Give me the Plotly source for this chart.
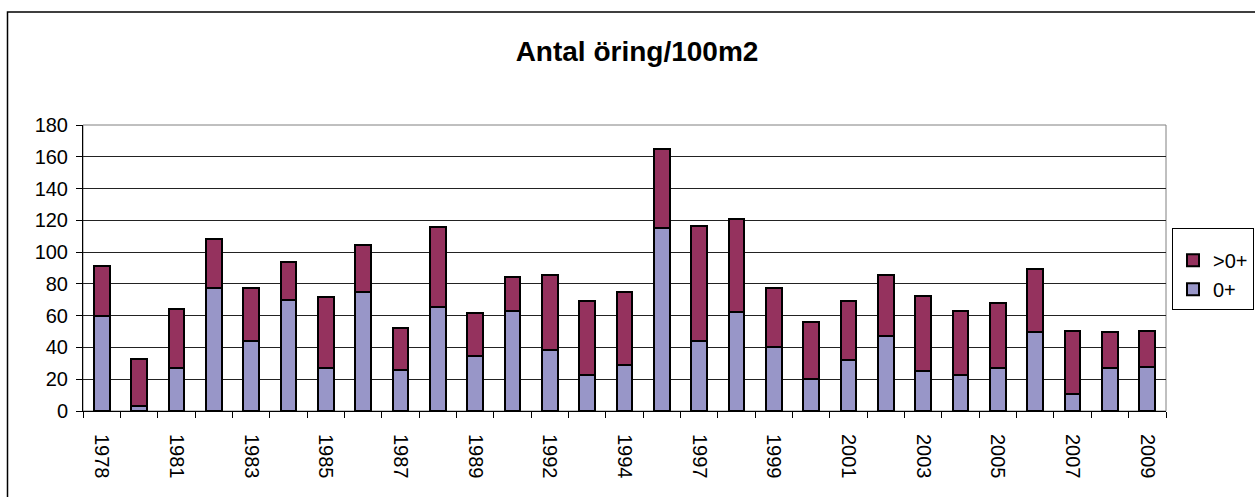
import plotly.graph_objects as go

# Data
years = ["1978", "1980", "1981", "1982", "1983", "1984", "1985", "1986", "1987",
         "1988", "1989", "1991", "1992", "1993", "1994", "1996", "1997", "1998",
         "1999", "2000", "2001", "2002", "2003", "2004", "2005", "2006", "2007",
         "2008", "2009"]
zero_plus = [60, 3, 27, 77.5, 44, 70, 27, 75, 25.5, 65.5, 34.5, 63, 38.5, 22.5, 29,
             115, 44, 62, 40, 20, 32, 47, 25, 22.5, 27, 49.5, 10.5, 27, 28]
older = [31.5, 30, 37, 31, 33.5, 23.5, 45, 29.5, 26.5, 50, 27, 21.5, 47, 47, 46,
         50, 72.5, 59, 37.5, 36, 37.5, 38.5, 47.5, 40.5, 41, 40, 40, 22.5, 22.5]
tick_labels = [y if i % 2 == 0 else "" for i, y in enumerate(years)]

FONT = "Liberation Sans, Arial, sans-serif"
W, H = 1255, 497

fig = go.Figure()
fig.add_trace(go.Bar(
    x=years, y=zero_plus, name="0+",
    marker=dict(color="#9896C8", line=dict(color="black", width=2)),
))
fig.add_trace(go.Bar(
    x=years, y=older, name=">0+",
    marker=dict(color="#95325E", line=dict(color="black", width=2)),
))

# Plot area frame (grey) and outer chart border
fig.add_shape(type="rect", xref="x domain", yref="y domain", x0=0, x1=1, y0=0, y1=1,
              line=dict(color="#808080", width=1), layer="below")
fig.add_shape(type="rect", xref="paper", yref="paper",
              x0=7.5 / W, x1=1.01, y0=-0.02, y1=1 - 12 / H,
              line=dict(color="black", width=1.5))

fig.update_layout(
    barmode="stack",
    bargap=0.58,
    width=W,
    height=H,
    margin=dict(l=0, r=0, t=0, b=0),
    paper_bgcolor="white",
    plot_bgcolor="white",
    font=dict(family=FONT, size=20, color="black"),
    title=dict(text="<b>Antal öring/100m2</b>", x=637 / W, xanchor="center",
               y=1 - 51 / H, yanchor="middle",
               font=dict(family=FONT, size=28, color="black")),
    legend=dict(
        traceorder="reversed",
        x=1 - 1 / W, xanchor="right",
        y=1 - 228 / H, yanchor="top",
        bordercolor="black", borderwidth=1, bgcolor="white",
        font=dict(family=FONT, size=20, color="black"),
        title=dict(text="&nbsp;", font=dict(size=9)),
        itemwidth=30, tracegroupgap=0,
    ),
    showlegend=True,
)

fig.update_yaxes(
    domain=[(H - 411) / H, (H - 125) / H],
    range=[0, 180], dtick=20, showgrid=True, gridcolor="#222222", gridwidth=1,
    showline=True, linecolor="black", linewidth=1,
    ticks="outside", ticklen=6, tickcolor="black",
    ticklabelstandoff=4, zeroline=False, automargin=False,
)
fig.update_xaxes(
    domain=[83 / W, 1166 / W],
    type="category", tickmode="array", tickvals=years, ticktext=tick_labels,
    tickson="boundaries", ticks="outside", ticklen=6, tickcolor="black",
    tickangle=90, showline=True, linecolor="black", linewidth=1,
    showgrid=False, ticklabelstandoff=18, automargin=False,
)

# remove the default page margin so the figure fills the window exactly
fig.write_html("out.html", config={"displayModeBar": False},
               post_script="document.body.style.margin='0px';")
